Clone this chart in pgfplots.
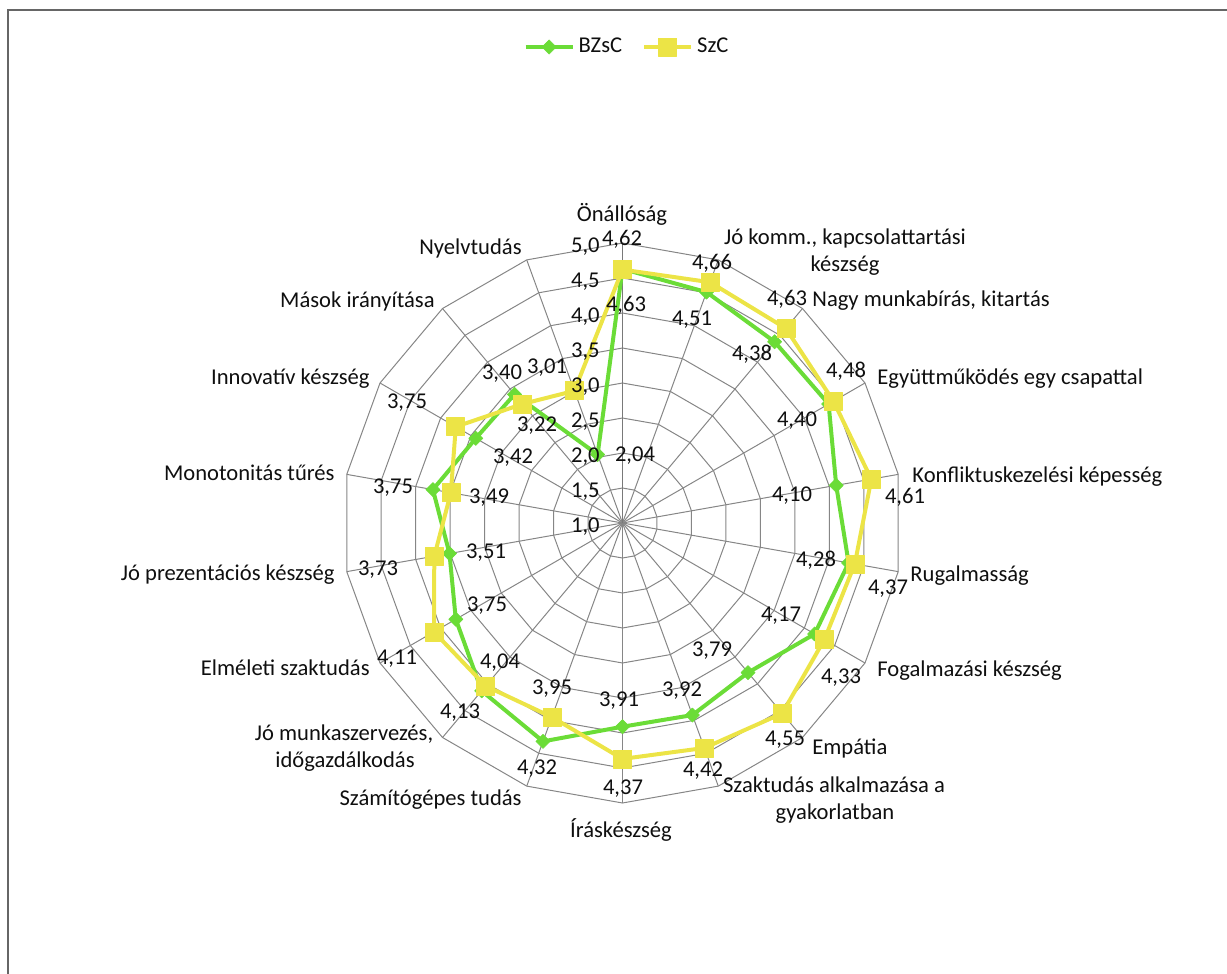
\documentclass[border=0pt]{standalone}
\usepackage{pgfplots}
\pgfplotsset{compat=1.18}
\usepgfplotslibrary{polar}
\usepackage{fontspec}
\setmainfont{Carlito}

\definecolor{bzsc}{RGB}{107,220,55}
\definecolor{szc}{RGB}{236,228,70}
\definecolor{web}{RGB}{134,134,134}
\definecolor{txt}{RGB}{15,15,15}

\begin{document}
\fontsize{11.3}{13.5}\selectfont
\begin{tikzpicture}[font=\fontsize{11.3}{13.5}\selectfont]
% page frame, 1 px = 0.5pt
\begin{scope}[x=0.5pt,y=-0.5pt]
  \path[use as bounding box] (0,0) rectangle (1227,974);
  \draw[line width=1pt, black!60] (8,974) -- (8,10) -- (1227,10);
\end{scope}

\begin{polaraxis}[
  at={(311.25pt,-261.5pt)}, anchor=center,
  width=280pt, height=280pt, scale only axis,
  y coord trafo/.code={\pgfmathparse{#1-1}},
  y coord inv trafo/.code={\pgfmathparse{#1+1}},
  ymin=1, ymax=5,
  hide axis, clip=false,
  legend columns=2,
  legend style={at={(0.51,1.35)}, anchor=center, draw=none, fill=none,
    font=\fontsize{11.3}{13.5}\selectfont, text=txt,
    /tikz/every even column/.append style={column sep=8pt}},
  legend image code/.code={\draw[mark repeat=2,mark phase=2,#1]
    plot coordinates {(0pt,0pt) (11.75pt,0pt) (23.5pt,0pt)};},
]
% spider web
\pgfplotsextra{
  \foreach \r in {1.5,2,...,5}
    \draw[web, line width=0.5pt] (axis cs:90,\r)
      \foreach \a in {70,50,...,-250} { -- (axis cs:\a,\r) } -- cycle;
  \foreach \a in {70,50,...,-250}
    \draw[web, line width=0.5pt] (axis cs:0,1) -- (axis cs:\a,5);
  \draw[web!90!black, line width=0.75pt] (axis cs:0,1) -- (axis cs:90,5);
}

% BZsC
\addplot[bzsc, line width=2pt, line join=round,
  mark=square*, mark size=2.5pt,
  mark options={solid, rotate=45, fill=bzsc, draw=bzsc, line width=0.3pt}]
  coordinates {
  (90,4.63) (70,4.51) (50,4.38) (30,4.40) (10,4.10) (350,4.28)
  (330,4.17) (310,3.79) (290,3.92) (270,3.91) (250,4.32) (230,4.13)
  (210,3.75) (190,3.51) (170,3.75) (150,3.42) (130,3.40) (110,2.04)
  (90,4.63)};
\addlegendentry{BZsC}

% SzC
\addplot[szc, line width=2pt, line join=round,
  mark=square*, mark size=4.5pt,
  mark options={solid, fill=szc, draw=szc, line width=0.3pt}]
  coordinates {
  (90,4.62) (70,4.66) (50,4.63) (30,4.48) (10,4.61) (350,4.37)
  (330,4.33) (310,4.55) (290,4.42) (270,4.37) (250,3.95) (230,4.04)
  (210,4.11) (190,3.73) (170,3.49) (150,3.75) (130,3.22) (110,3.01)
  (90,4.62)};
\addlegendentry{SzC}
\end{polaraxis}

\begin{scope}[x=0.5pt,y=-0.5pt, every node/.style={inner sep=0pt, text=txt}]
  % radial tick labels
  \node[anchor=base east] at (600,532) {1,0};
  \node[anchor=base east] at (600,497) {1,5};
  \node[anchor=base east] at (600,462) {2,0};
  \node[anchor=base east] at (600,427) {2,5};
  \node[anchor=base east] at (600,392) {3,0};
  \node[anchor=base east] at (600,357) {3,5};
  \node[anchor=base east] at (600,322) {4,0};
  \node[anchor=base east] at (600,287) {4,5};
  \node[anchor=base east] at (600,252) {5,0};

  % category labels
  \node[anchor=base] at (622,221) {Önállóság};
  \node[anchor=base] at (845,244) {Jó komm., kapcsolattartási};
  \node[anchor=base] at (845,271) {készség};
  \node[anchor=base west] at (812,306) {Nagy munkabírás, kitartás};
  \node[anchor=base west] at (877,384) {Együttműködés egy csapattal};
  \node[anchor=base west] at (912,482) {Konfliktuskezelési képesség};
  \node[anchor=base west] at (910,581) {Rugalmasság};
  \node[anchor=base west] at (877,676) {Fogalmazási készség};
  \node[anchor=base west] at (812,754) {Empátia};
  \node[anchor=base] at (834,792) {Szaktudás alkalmazása a};
  \node[anchor=base] at (835,819) {gyakorlatban};
  \node[anchor=base] at (621,837) {Íráskészség};
  \node[anchor=base east] at (522,805) {Számítógépes tudás};
  \node[anchor=base] at (344,740) {Jó munkaszervezés,};
  \node[anchor=base] at (345,767) {időgazdálkodás};
  \node[anchor=base east] at (370,675) {Elméleti szaktudás};
  \node[anchor=base east] at (335,580) {Jó prezentációs készség};
  \node[anchor=base east] at (335,480) {Monotonitás tűrés};
  \node[anchor=base east] at (370,384) {Innovatív készség};
  \node[anchor=base east] at (435,307) {Mások irányítása};
  \node[anchor=base east] at (522,255) {Nyelvtudás};

  % data labels
  \node[anchor=base] at (622,245) {4,62};
  \node[anchor=base] at (626,311) {4,63};
  \node[anchor=base] at (712,269) {4,66};
  \node[anchor=base] at (692,325) {4,51};
  \node[anchor=base] at (787,305) {4,63};
  \node[anchor=base] at (752,360) {4,38};
  \node[anchor=base] at (846,377) {4,48};
  \node[anchor=base] at (797,426) {4,40};
  \node[anchor=base] at (792,501) {4,10};
  \node[anchor=base] at (905,503) {4,61};
  \node[anchor=base] at (816,566) {4,28};
  \node[anchor=base] at (888,594) {4,37};
  \node[anchor=base] at (781,621) {4,17};
  \node[anchor=base] at (712,656) {3,79};
  \node[anchor=base] at (841,683) {4,33};
  \node[anchor=base] at (682,696) {3,92};
  \node[anchor=base] at (619,706) {3,91};
  \node[anchor=base] at (785,745) {4,55};
  \node[anchor=base] at (703,776) {4,42};
  \node[anchor=base] at (623,794) {4,37};
  \node[anchor=base] at (552,694) {3,95};
  \node[anchor=base] at (537,774) {4,32};
  \node[anchor=base] at (500,668) {4,04};
  \node[anchor=base] at (460,718) {4,13};
  \node[anchor=base] at (487,611) {3,75};
  \node[anchor=base] at (397,664) {4,11};
  \node[anchor=base] at (486,558) {3,51};
  \node[anchor=base] at (378,575) {3,73};
  \node[anchor=base] at (489,503) {3,49};
  \node[anchor=base] at (393,493) {3,75};
  \node[anchor=base] at (513,463) {3,42};
  \node[anchor=base] at (407,408) {3,75};
  \node[anchor=base] at (502,379) {3,40};
  \node[anchor=base] at (537,431) {3,22};
  \node[anchor=base] at (547,373) {3,01};
  \node[anchor=base] at (635,461) {2,04};
\end{scope}
\end{tikzpicture}
\end{document}
